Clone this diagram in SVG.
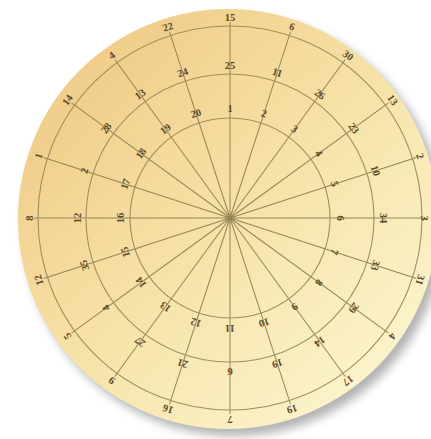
<svg xmlns="http://www.w3.org/2000/svg" width="431" height="439" viewBox="0 0 431 439">
  <defs>
    <linearGradient id="paper" x1="0.1" y1="0.1" x2="0.9" y2="0.95">
      <stop offset="0" stop-color="#efca86"/>
      <stop offset="0.5" stop-color="#f7e3a8"/>
      <stop offset="1" stop-color="#fcf6d2"/>
    </linearGradient>
    <filter id="blur" x="-20%" y="-20%" width="140%" height="140%">
      <feGaussianBlur stdDeviation="5"/>
    </filter>
    <line id="spoke" x1="230" y1="218" x2="230" y2="22"/>
  </defs>
  <style>
    .ring{fill:none;stroke:#a09060;stroke-width:1.1}
    .spokes use{stroke:#948455;stroke-width:1}
    text{font-family:"Liberation Serif","DejaVu Serif",serif;font-weight:bold;font-size:10.5px;fill:#5b4a28;text-anchor:middle;dominant-baseline:central}
  </style>
  <rect width="431" height="439" fill="#ffffff"/>
  <circle cx="234" cy="226" r="210" fill="#8a8a8a" opacity="0.65" filter="url(#blur)"/>
  <circle id="disc" cx="228" cy="219" r="210" fill="url(#paper)"/>

  <g id="connectors" class="spokes">
    <use href="#spoke" transform="rotate(0 230 218)"/>
    <use href="#spoke" transform="rotate(18 230 218)"/>
    <use href="#spoke" transform="rotate(36 230 218)"/>
    <use href="#spoke" transform="rotate(54 230 218)"/>
    <use href="#spoke" transform="rotate(72 230 218)"/>
    <use href="#spoke" transform="rotate(90 230 218)"/>
    <use href="#spoke" transform="rotate(108 230 218)"/>
    <use href="#spoke" transform="rotate(126 230 218)"/>
    <use href="#spoke" transform="rotate(144 230 218)"/>
    <use href="#spoke" transform="rotate(162 230 218)"/>
    <use href="#spoke" transform="rotate(180 230 218)"/>
    <use href="#spoke" transform="rotate(198 230 218)"/>
    <use href="#spoke" transform="rotate(216 230 218)"/>
    <use href="#spoke" transform="rotate(234 230 218)"/>
    <use href="#spoke" transform="rotate(252 230 218)"/>
    <use href="#spoke" transform="rotate(270 230 218)"/>
    <use href="#spoke" transform="rotate(288 230 218)"/>
    <use href="#spoke" transform="rotate(306 230 218)"/>
    <use href="#spoke" transform="rotate(324 230 218)"/>
    <use href="#spoke" transform="rotate(342 230 218)"/>
  </g>

  <g id="circles">
    <circle class="ring" cx="230" cy="218" r="100"/>
    <circle class="ring" cx="230" cy="218" r="144"/>
    <circle class="ring" cx="230" cy="218" r="192"/>
    <circle class="ring" cx="230" cy="218" r="4"/>
  </g>

  <g id="inner-ring">
    <text x="230" y="108" transform="rotate(0 230 218)">1</text>
    <text x="230" y="108" transform="rotate(18 230 218)">2</text>
    <text x="230" y="108" transform="rotate(36 230 218)">3</text>
    <text x="230" y="108" transform="rotate(54 230 218)">4</text>
    <text x="230" y="108" transform="rotate(72 230 218)">5</text>
    <text x="230" y="108" transform="rotate(90 230 218)">6</text>
    <text x="230" y="108" transform="rotate(108 230 218)">7</text>
    <text x="230" y="108" transform="rotate(126 230 218)">8</text>
    <text x="230" y="108" transform="rotate(144 230 218)">9</text>
    <text x="230" y="108" transform="rotate(162 230 218)">10</text>
    <text x="230" y="108" transform="rotate(180 230 218)">11</text>
    <text x="230" y="108" transform="rotate(198 230 218)">12</text>
    <text x="230" y="108" transform="rotate(216 230 218)">13</text>
    <text x="230" y="108" transform="rotate(234 230 218)">14</text>
    <text x="230" y="108" transform="rotate(252 230 218)">15</text>
    <text x="230" y="108" transform="rotate(270 230 218)">16</text>
    <text x="230" y="108" transform="rotate(288 230 218)">17</text>
    <text x="230" y="108" transform="rotate(306 230 218)">18</text>
    <text x="230" y="108" transform="rotate(324 230 218)">19</text>
    <text x="230" y="108" transform="rotate(342 230 218)">20</text>
  </g>

  <g id="middle-ring">
    <text x="230" y="65" transform="rotate(0 230 218)">25</text>
    <text x="230" y="65" transform="rotate(18 230 218)">11</text>
    <text x="230" y="65" transform="rotate(36 230 218)">26</text>
    <text x="230" y="65" transform="rotate(54 230 218)">23</text>
    <text x="230" y="65" transform="rotate(72 230 218)">10</text>
    <text x="230" y="65" transform="rotate(90 230 218)">34</text>
    <text x="230" y="65" transform="rotate(108 230 218)">33</text>
    <text x="230" y="65" transform="rotate(126 230 218)">29</text>
    <text x="230" y="65" transform="rotate(144 230 218)">14</text>
    <text x="230" y="65" transform="rotate(162 230 218)">19</text>
    <text x="230" y="65" transform="rotate(180 230 218)">6</text>
    <text x="230" y="65" transform="rotate(198 230 218)">21</text>
    <text x="230" y="65" transform="rotate(216 230 218)">27</text>
    <text x="230" y="65" transform="rotate(234 230 218)">4</text>
    <text x="230" y="65" transform="rotate(252 230 218)">35</text>
    <text x="230" y="65" transform="rotate(270 230 218)">12</text>
    <text x="230" y="65" transform="rotate(288 230 218)">2</text>
    <text x="230" y="65" transform="rotate(306 230 218)">28</text>
    <text x="230" y="65" transform="rotate(324 230 218)">13</text>
    <text x="230" y="65" transform="rotate(342 230 218)">24</text>
  </g>

  <g id="outer-ring">
    <text x="230" y="17" transform="rotate(0 230 218)">15</text>
    <text x="230" y="17" transform="rotate(18 230 218)">6</text>
    <text x="230" y="17" transform="rotate(36 230 218)">30</text>
    <text x="230" y="17" transform="rotate(54 230 218)">13</text>
    <text x="230" y="18" transform="rotate(72 230 218)">2</text>
    <text x="230" y="24" transform="rotate(90 230 218)">3</text>
    <text x="230" y="18" transform="rotate(108 230 218)">31</text>
    <text x="230" y="17" transform="rotate(126 230 218)">4</text>
    <text x="230" y="17" transform="rotate(144 230 218)">17</text>
    <text x="230" y="17" transform="rotate(162 230 218)">19</text>
    <text x="230" y="17" transform="rotate(180 230 218)">7</text>
    <text x="230" y="17" transform="rotate(198 230 218)">16</text>
    <text x="230" y="17" transform="rotate(216 230 218)">9</text>
    <text x="230" y="17" transform="rotate(234 230 218)">5</text>
    <text x="230" y="17" transform="rotate(252 230 218)">12</text>
    <text x="230" y="17" transform="rotate(270 230 218)">8</text>
    <text x="230" y="17" transform="rotate(288 230 218)">1</text>
    <text x="230" y="17" transform="rotate(306 230 218)">14</text>
    <text x="230" y="17" transform="rotate(324 230 218)">4</text>
    <text x="230" y="17" transform="rotate(342 230 218)">22</text>
  </g>
</svg>
